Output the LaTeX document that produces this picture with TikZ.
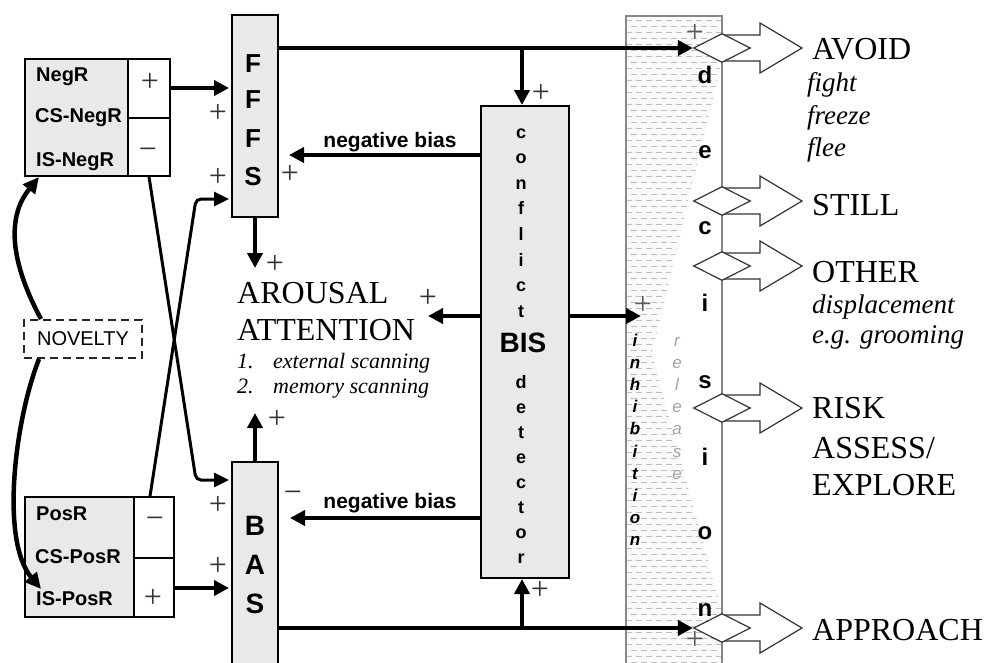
\documentclass[tikz,border=0pt]{standalone}
\usepackage{fontspec}
\setmainfont{Liberation Serif}
\newfontfamily\sansf{Liberation Sans}
\usetikzlibrary{arrows.meta,shapes.geometric}
\definecolor{boxgray}{RGB}{233,233,233}
\definecolor{colgray}{RGB}{135,135,135}
\definecolor{dashgray}{RGB}{192,192,192}
\definecolor{relgray}{RGB}{165,165,165}
\begin{document}
\begin{tikzpicture}[x=1pt,y=-1pt,
  box/.style={draw=black,line width=2pt,fill=boxgray,inner sep=0pt},
  signbox/.style={draw=black,line width=1.6pt,fill=white,inner sep=0pt},
  bigarrow/.style={line width=4pt,-{Triangle[length=15pt,width=15pt]}},
  xline/.style={line width=3pt,rounded corners=5pt,-{Triangle[length=15pt,width=14pt]}},
  novarrow/.style={line width=4.5pt,-{Triangle[length=16pt,width=15pt]}},
  sgn/.style={font=\fontsize{32}{32}\selectfont,inner sep=0pt,text=black!80},
  lbl/.style={font=\sansf\bfseries\fontsize{20}{24}\selectfont,anchor=base west,inner sep=0pt},
  bigletter/.style={font=\sansf\bfseries\fontsize{26}{30}\selectfont,anchor=base,inner sep=0pt},
  bisletter/.style={font=\sansf\bfseries\fontsize{18}{20}\selectfont,anchor=base,inner sep=0pt},
  declet/.style={font=\sansf\bfseries\fontsize{24}{28}\selectfont,anchor=base,inner sep=0pt},
  inhlet/.style={font=\sansf\bfseries\itshape\fontsize{17}{18}\selectfont,anchor=base,inner sep=0pt},
  rellet/.style={font=\sansf\itshape\fontsize{17}{18}\selectfont,anchor=base,inner sep=0pt,text=relgray},
  outlbl/.style={font=\fontsize{32}{36}\selectfont,anchor=base west,inner sep=0pt},
  outsub/.style={font=\itshape\fontsize{27}{30}\selectfont,anchor=base west,inner sep=0pt},
  listtext/.style={font=\itshape\fontsize{22}{26}\selectfont,anchor=base west,inner sep=0pt},
  biastext/.style={font=\sansf\bfseries\fontsize{21}{24}\selectfont,anchor=base,inner sep=0pt},
  decarrow/.style={draw=black!80,line width=1.2pt,fill=white,line join=miter},
  decdiamond/.style={diamond,draw=black!80,line width=1.2pt,fill=white,inner sep=0pt,minimum width=57pt,minimum height=29pt},
]
\useasboundingbox (0,0) rectangle (992,662);
\fill[white] (0,0) rectangle (992,662);
\clip (0,0) rectangle (992,662);

% decision column with shading
\begin{scope}
  \clip (626,16) -- (722,16) -- (722,60) -- (652,353) -- (722,613) -- (722,700) -- (626,700) -- cycle;
  \fill[gray!4] (626,16) rectangle (722,700);
  \foreach \k in {0,...,56} {
    \draw[dashgray,line width=0.9pt,dash pattern=on 6pt off 4pt] (626,20+12*\k) -- (722,20+12*\k);
    \draw[dashgray,line width=0.9pt,dash pattern=on 6pt off 4pt,dash phase=5pt] (626,26+12*\k) -- (722,26+12*\k);
  }
\end{scope}
\draw[colgray,line width=1.3pt] (626,700) -- (626,16) -- (722,16) -- (722,700);

% decision outputs (block arrows + diamonds)
\foreach \yy/\nm in {48/dAvoid,201/dStill,266/dOther,408/dRisk,628/dAppr} {
  \draw[decarrow] (722,\yy-13) -- (760,\yy-13) -- (760,\yy-25) -- (802,\yy) -- (760,\yy+25) -- (760,\yy+13) -- (722,\yy+13);
  \node[decdiamond] (\nm) at (722,\yy) {};
}

% main boxes
\node[box,minimum width=46pt,minimum height=202pt] (fffs) at (255,116) {};
\node[box,minimum width=46pt,minimum height=238pt] (bas) at (255,581) {};
\node[box,minimum width=88pt,minimum height=472pt] (bis) at (525,342) {};

% NegR box
\node[box,minimum width=145pt,minimum height=117pt] (negbox) at (97.5,117.5) {};
\node[signbox,minimum width=42pt,minimum height=117pt] (negsign) at (149,117.5) {};
\draw[line width=1.6pt] (negsign.west |- 0,118) -- (negsign.east |- 0,118);
% PosR box
\node[box,minimum width=149pt,minimum height=120pt] (posbox) at (99.5,557) {};
\node[signbox,minimum width=40pt,minimum height=120pt] (possign) at (154,557) {};
\draw[line width=1.6pt] (possign.west |- 0,558) -- (possign.east |- 0,558);

\node[lbl] (lNeg) at (36,81) {NegR};
\node[lbl] (lCSNeg) at (35,122) {CS-NegR};
\node[lbl] (lISNeg) at (36,166) {IS-NegR};
\node[lbl] (lPos) at (36,520) {PosR};
\node[lbl] (lCSPos) at (35,563) {CS-PosR};
\node[lbl] (lISPos) at (36,605) {IS-PosR};
\node[sgn] (sNeg1) at (150,82) {+};
\node[sgn] (sNeg2) at (148,154) {−};
\node[sgn] (sPos1) at (155,523) {−};
\node[sgn] (sPos2) at (153,598) {+};

% NOVELTY
\node[draw=black!85,line width=2pt,dash pattern=on 8pt off 5pt,minimum width=118pt,minimum height=38pt,inner sep=0pt,
      font=\sansf\fontsize{20}{24}\selectfont] (novelty) at (83,339) {NOVELTY};
\coordinate (novUp) at (39,177);
\coordinate (novDown) at (41,589);
\draw[novarrow] ([xshift=18pt]novelty.north west) .. controls (20,280) and (0,225) .. (novUp);
\draw[novarrow] ([xshift=16pt]novelty.south west) .. controls (15,420) and (0,540) .. (novDown);

% letters in boxes
\node[bigletter] (f1) at (253,72) {F};
\node[bigletter] (f2) at (253,108) {F};
\node[bigletter] (f3) at (253,147) {F};
\node[bigletter] (f4) at (253,185) {S};
\node[bigletter,font=\sansf\bfseries\fontsize{28}{30}\selectfont] (b1) at (255,535) {B};
\node[bigletter,font=\sansf\bfseries\fontsize{28}{30}\selectfont] (b2) at (255,574) {A};
\node[bigletter,font=\sansf\bfseries\fontsize{28}{30}\selectfont] (b3) at (255,613) {S};
\foreach \ch [count=\i from 0] in {c,o,n,f,l,i,c,t}
  \node[bisletter] (conf\i) at (521,138+25.6*\i) {\ch};
\node[bigletter,font=\sansf\bfseries\fontsize{28}{30}\selectfont] (bisname) at (523,352) {BIS};
\foreach \ch [count=\i from 0] in {d,e,t,e,c,t,o,r}
  \node[bisletter] (det\i) at (521,388+25*\i) {\ch};

% decision / inhibition / release letters
\foreach \ch/\yy [count=\i] in {d/83.5,e/158,c/234,i/311.5,s/388,i/465.5,o/539,n/616}
  \node[declet] (dec\i) at (705,\yy) {\ch};
\foreach \ch [count=\i from 0] in {i,n,h,i,b,i,t,i,o,n}
  \node[inhlet] (inh\i) at (635,346+22.2*\i) {\ch};
\foreach \ch [count=\i from 0] in {r,e,l,e,a,s,e}
  \node[rellet] (rel\i) at (677,346+22.2*\i) {\ch};

% arousal / attention
\node[outlbl] (arousal) at (237,303) {AROUSAL};
\node[outlbl] (attention) at (237,340) {ATTENTION};
\node[listtext] (n1) at (237,368) {1.};
\node[listtext] (ext) at (273,368) {external scanning};
\node[listtext] (n2) at (237,393) {2.};
\node[listtext] (mem) at (273,393) {memory scanning};

% outputs text
\node[outlbl] (tAvoid) at (812,59) {AVOID};
\node[outsub] (tFight) at (807,91) {fight};
\node[outsub] (tFreeze) at (807,124) {freeze};
\node[outsub] (tFlee) at (807,156) {flee};
\node[outlbl] (tStill) at (812,215) {STILL};
\node[outlbl] (tOther) at (812,282) {OTHER};
\node[outsub] (tDisp) at (812,313) {displacement};
\node[outsub] (tEg) at (812,343) {e.g. grooming};
\node[outlbl] (tRisk) at (812,418) {RISK};
\node[outlbl] (tAssess) at (812,458) {ASSESS/};
\node[outlbl] (tExplore) at (812,495) {EXPLORE};
\node[outlbl] (tAppr) at (812,640) {APPROACH};

% negative bias
\node[biastext] (nb1) at (390,147) {negative bias};
\node[biastext] (nb2) at (390,508) {negative bias};

% connectors
\draw[bigarrow,shorten >=2pt] (negsign.east |- 0,88) -- (fffs.west |- 0,88);
\draw[bigarrow,shorten >=2pt] (possign.east |- 0,588) -- (bas.west |- 0,588);
\draw[xline,shorten >=2pt] (negsign.south) -- (196,480) -- (bas.west |- 0,480);
\draw[xline,shorten >=2pt] ([xshift=-4pt]possign.north) -- (196,199) -- (fffs.west |- 0,199);
\coordinate (arTop) at (257,268);
\coordinate (arBot) at (257,413);
\draw[bigarrow] (fffs.south) -- (fffs.south |- arTop);
\draw[bigarrow] (bas.north) -- (bas.north |- arBot);
\draw[bigarrow,shorten >=10pt] (bis.west |- 0,155) -- (fffs.east |- 0,155);
\draw[bigarrow,shorten >=11pt] (bis.west |- 0,518) -- (bas.east |- 0,518);
\coordinate (arIn) at (428,316);
\coordinate (inhIn) at (641,316);
\draw[bigarrow] (bis.west |- arIn) -- (arIn);
\draw[bigarrow] (bis.east |- inhIn) -- (inhIn);
\draw[bigarrow] (fffs.east |- dAvoid.west) -- (dAvoid.west);
\draw[bigarrow] ([xshift=-3pt]bis.north |- dAvoid) -- ([xshift=-3pt]bis.north);
\draw[bigarrow] (bas.east |- dAppr.west) -- (dAppr.west);
\draw[bigarrow] ([xshift=-3pt]bis.south |- dAppr) -- ([xshift=-3pt]bis.south);

% signs
\node[sgn] (p1) at (218,113) {+};
\node[sgn] (p2) at (218,177) {+};
\node[sgn] (p3) at (290,174) {+};
\node[sgn] (p4) at (275,264) {+};
\node[sgn] (p5) at (277,419) {+};
\node[sgn] (p6) at (218,505) {+};
\node[sgn] (p7) at (218,566) {+};
\node[sgn] (m1) at (293,497) {−};
\node[sgn] (p8) at (428,298) {+};
\node[sgn] (p9) at (541,93) {+};
\node[sgn] (p10) at (540,590) {+};
\node[sgn,text=black!65] (p11) at (643,305) {+};
\node[sgn,text=black!65] (p12) at (695,33) {+};
\node[sgn,text=black!65] (p13) at (695,640) {+};
\end{tikzpicture}
\end{document}
